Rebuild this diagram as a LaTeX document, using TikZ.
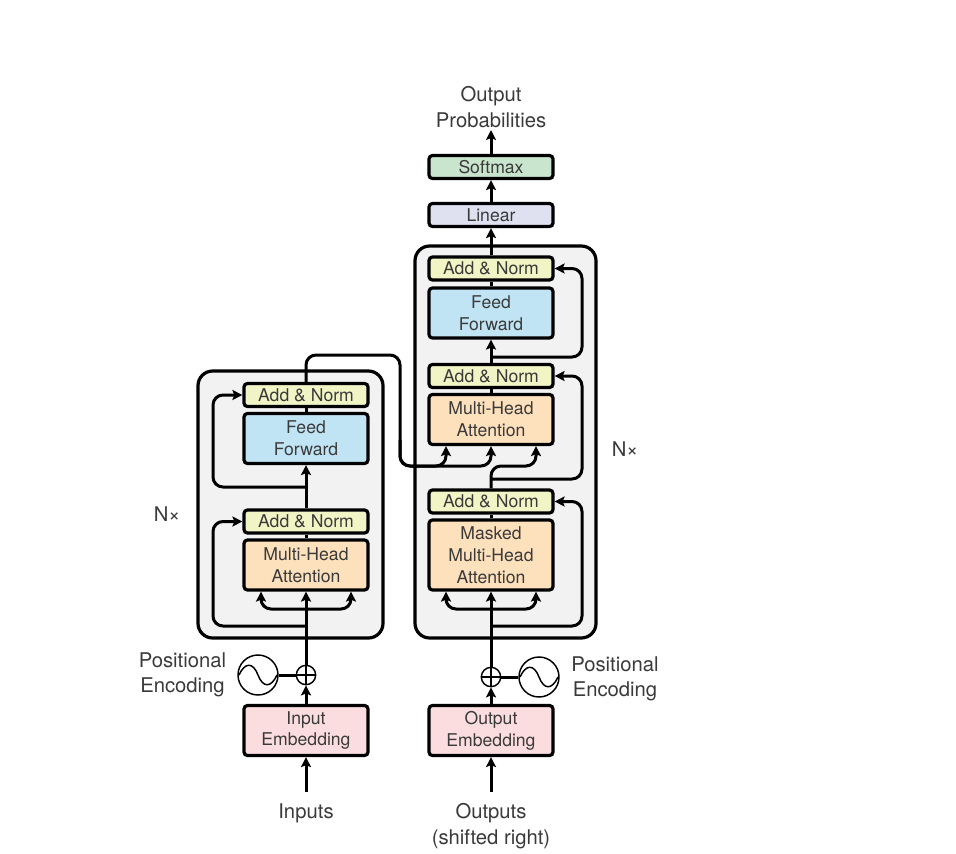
\documentclass[tikz,border=0pt]{standalone}
\usepackage{fontspec}
\setmainfont{TeX Gyre Heros}
\usetikzlibrary{arrows.meta,calc}
\definecolor{txt}{HTML}{3A3A3A}
\definecolor{cAN}{HTML}{F1F4C5}
\definecolor{cFF}{HTML}{C1E4F5}
\definecolor{cMH}{HTML}{FDE0BC}
\definecolor{cEM}{HTML}{FBDDE0}
\definecolor{cSO}{HTML}{C9E5CE}
\definecolor{cLI}{HTML}{DFE1F1}
\definecolor{cBG}{HTML}{F2F2F2}
\tikzset{
  x=0.75pt,y=-0.75pt,
  blk/.style={draw=black,line width=2.4pt,rounded corners=2.6pt,minimum width=93pt,inner sep=0pt,align=center,text=txt,
    font=\fontsize{13.2}{16.4}\selectfont},
  one/.style={blk,minimum height=17.25pt},
  two/.style={blk,minimum height=37.5pt},
  three/.style={blk,minimum height=52.5pt},
  bgbox/.style={draw=black,line width=2.4pt,rounded corners=11pt,fill=cBG,inner sep=0pt},
  lab/.style={text=txt,align=center,inner sep=0pt,font=\fontsize{15.2}{19.2}\selectfont},
  wire/.style={draw=black,line width=2.25pt,rounded corners=7.5pt},
  arr/.style={wire,-{Stealth[length=7.5pt,width=7.5pt,inset=1.5pt]}},
  plusn/.style={circle,draw=black,line width=1.1pt,fill=white,minimum size=14.5pt,inner sep=0pt},
  sinen/.style={circle,draw=black,line width=1.1pt,fill=white,minimum size=30pt,inner sep=0pt},
  thin1/.style={draw=black,line width=1.1pt},
}
\begin{document}
\begin{tikzpicture}
\useasboundingbox (0,0) rectangle (956,853);
% backgrounds
\node[bgbox,minimum width=138.75pt,minimum height=200.25pt] (encbg) at (290.5,504.5) {};
\node[bgbox,minimum width=135.75pt,minimum height=294pt] (decbg) at (505.5,442) {};
% encoder
\node[one,fill=cAN] (eAt) at (306,395) {Add \& Norm};
\node[two,fill=cFF] (eF) at (306,438.5) {Feed\\Forward};
\node[one,fill=cAN] (eAb) at (306,521.5) {Add \& Norm};
\node[two,fill=cMH] (eM) at (306,565) {Multi-Head\\Attention};
\node[two,fill=cEM] (eE) at (306,730.5) {Input\\Embedding};
% decoder
\node[one,fill=cLI] (dL) at (491,215) {Linear};
\node[one,fill=cSO] (dS) at (491,167) {Softmax};
\node[one,fill=cAN] (dAt) at (491,268.5) {Add \& Norm};
\node[two,fill=cFF] (dF) at (491,313) {Feed\\Forward};
\node[one,fill=cAN] (dAm) at (491,376) {Add \& Norm};
\node[two,fill=cMH] (dM) at (491,419.5) {Multi-Head\\Attention};
\node[one,fill=cAN] (dAb) at (491,501.5) {Add \& Norm};
\node[three,fill=cMH] (dK) at (491,555) {Masked\\Multi-Head\\Attention};
\node[two,fill=cEM] (dE) at (491,730.5) {Output\\Embedding};
% labels
\node[lab] (lOut) at (491,107) {Output\\Probabilities};
\node[lab] (lIn) at (306,813) {Inputs};
\node[lab] (lOs) at (491,826) {Outputs\\(shifted right)};
\node[lab] (lPl) at (182.5,675) {Positional\\Encoding};
\node[lab] (lPr) at (615,679) {Positional\\Encoding};
\node[lab] (lNl) at (167,514) {N×};
\node[lab] (lNr) at (625,449) {N×};
% positional encoding
\node[plusn] (pL) at (306,675) {};
\node[plusn] (pR) at (491,677) {};
\node[sinen] (sL) at (258,675) {};
\node[sinen] (sR) at (539,677) {};
\foreach \p in {pL,pR}{
  \draw[thin1] (\p.north) -- (\p.south);
  \draw[thin1] (\p.west) -- (\p.east);
}
\foreach \s in {sL,sR}{
  \draw[thin1,shift={(\s.center)}] (-19,0) .. controls (-13,-13) and (-5,-13) .. (0,0) .. controls (5,13) and (13,13) .. (19,0);
}
% free ends
\coordinate (cIn) at (306,792);
\coordinate (cOs) at (491,792);
\coordinate (cTop) at (491,130);
% vertical wires
\draw[arr] (cIn) -- (eE.south);
\draw[arr] (eE.north) -- (pL.south);
\draw[arr] (pL.north) -- (eM.south);
\draw[wire] (eM.north) -- (eAb.south);
\draw[arr] (eAb.north) -- (eF.south);
\draw[wire] (eF.north) -- (eAt.south);
\draw[arr] (cOs) -- (dE.south);
\draw[arr] (dE.north) -- (pR.south);
\draw[arr] (pR.north) -- (dK.south);
\draw[wire] (dK.north) -- (dAb.south);
\draw[wire] (dM.north) -- (dAm.south);
\draw[arr] (dAm.north) -- (dF.south);
\draw[wire] (dF.north) -- (dAt.south);
\draw[arr] (dAt.north) -- (dL.south);
\draw[arr] (dL.north) -- (dS.south);
\draw[arr] (dS.north) -- (cTop);
\draw[wire] (pL.west) -- (sL.east);
\draw[wire] (pR.east) -- (sR.west);
% encoder residuals
\draw[arr] (306,626) -- (213,626) |- (eAb.west);
\draw[arr] (306,487) -- (213,487) |- (eAt.west);
% encoder attention inputs
\draw[arr] (306,609) -| ($(eM.south)+(-45,0)$);
\draw[arr] (306,609) -| ($(eM.south)+(45,0)$);
% decoder residuals
\draw[arr] (491,626) -- (582,626) |- (dAb.east);
\draw[arr] (491,479) -- (582,479) |- (dAm.east);
\draw[arr] (491,357) -- (582,357) |- (dAt.east);
% masked attention inputs
\draw[arr] (491,609) -| ($(dK.south)+(-45,0)$);
\draw[arr] (491,609) -| ($(dK.south)+(45,0)$);
% cross attention
\draw[arr] (eAt.north) -- (306,355) -- (400,355) -- (400,466) -| ($(dM.south)+(-45,0)$);
\draw[arr] (400,440) -- (400,466) -| (dM.south);
\draw[arr] (dAb.north) -- (491,466) -| ($(dM.south)+(45,0)$);
\end{tikzpicture}
\end{document}
